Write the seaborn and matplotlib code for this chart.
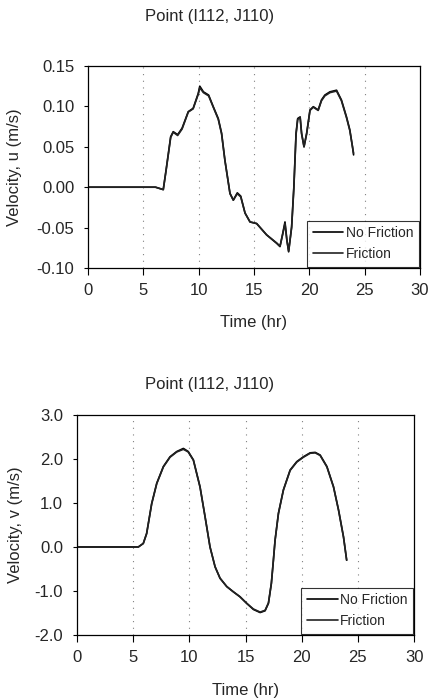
import numpy as np
import pandas as pd
import matplotlib
matplotlib.use("Agg")
import matplotlib.pyplot as plt
import seaborn as sns

# =========================
# DADOS
# =========================
titulo = "Point (I112, J110)"
legenda = ["No Friction", "Friction"]

# velocidade u
tempo_u = [0.0, 2.0, 4.0, 6.1, 6.8, 7.05, 7.47, 7.7, 8.1, 8.5, 9.06, 9.5, 9.96,
           10.1, 10.43, 10.9, 11.32, 11.77, 12.07, 12.37, 12.83, 13.13, 13.49,
           13.8, 14.19, 14.64, 15.24, 16.14, 17.05, 17.35, 17.6, 17.8, 17.97,
           18.13, 18.4, 18.6, 18.8, 18.95, 19.17, 19.3, 19.52, 19.76, 20.06,
           20.36, 20.8, 21.1, 21.4, 21.86, 22.46, 22.9, 23.36, 23.66, 23.9, 24.0]
u_sem_atrito = [0.0, 0.0, 0.0, 0.0, -0.003, 0.021, 0.0625, 0.0687, 0.065, 0.073,
                0.0935, 0.0976, 0.116, 0.125, 0.118, 0.114, 0.0996, 0.085, 0.067,
                0.0337, -0.0076, -0.016, -0.007, -0.011, -0.032, -0.043, -0.045,
                -0.059, -0.0695, -0.0735, -0.057, -0.043, -0.065, -0.08, -0.049,
                0.0, 0.067, 0.085, 0.087, 0.067, 0.050, 0.067, 0.0956, 0.0996,
                0.0956, 0.108, 0.114, 0.118, 0.120, 0.108, 0.087, 0.071, 0.050, 0.040]
u_com_atrito = [0.0, 0.0, 0.0, 0.0, -0.003, 0.020, 0.0615, 0.068, 0.064, 0.072,
                0.093, 0.097, 0.115, 0.123, 0.117, 0.113, 0.099, 0.084, 0.066,
                0.033, -0.008, -0.016, -0.008, -0.012, -0.032, -0.043, -0.045,
                -0.059, -0.069, -0.073, -0.058, -0.045, -0.066, -0.079, -0.050,
                -0.002, 0.065, 0.084, 0.086, 0.066, 0.050, 0.066, 0.095, 0.099,
                0.095, 0.107, 0.113, 0.117, 0.119, 0.107, 0.086, 0.070, 0.050, 0.042]

# velocidade v
tempo_v = [0.0, 0.02, 2.0, 4.0, 5.46, 5.9, 6.2, 6.65, 7.1, 7.69, 8.28, 8.88, 9.47,
           9.9, 10.36, 10.95, 11.4, 11.84, 12.29, 12.73, 13.33, 13.92, 14.5,
           15.1, 15.7, 16.3, 16.74, 17.04, 17.3, 17.48, 17.63, 17.93, 18.37,
           18.97, 19.56, 20.15, 20.75, 21.2, 21.64, 22.24, 22.83, 23.28, 23.72, 24.0]
v_sem_atrito = [2.6, 0.0, 0.0, 0.0, 0.0, 0.08, 0.31, 0.99, 1.45, 1.83, 2.05, 2.17,
                2.24, 2.17, 1.98, 1.37, 0.69, 0.0, -0.45, -0.71, -0.9, -1.02,
                -1.13, -1.28, -1.42, -1.49, -1.45, -1.28, -0.83, -0.30, 0.16, 0.77,
                1.30, 1.75, 1.94, 2.05, 2.14, 2.15, 2.09, 1.83, 1.37, 0.84, 0.23, -0.30]
v_com_atrito = [2.6, 0.0, 0.0, 0.0, 0.0, 0.08, 0.30, 0.98, 1.44, 1.82, 2.04, 2.16,
                2.22, 2.16, 1.97, 1.36, 0.68, 0.0, -0.45, -0.71, -0.9, -1.02,
                -1.13, -1.28, -1.41, -1.48, -1.44, -1.27, -0.82, -0.30, 0.15, 0.76,
                1.29, 1.74, 1.93, 2.04, 2.13, 2.14, 2.08, 1.82, 1.36, 0.83, 0.22, -0.30]

# =========================
# CONFIG
# =========================
sns.set_theme(style="ticks")
plt.rcParams["font.family"] = ["Liberation Sans", "DejaVu Sans"]

fig = plt.figure(figsize=(4.30, 6.99), dpi=100)
ax_u = fig.add_axes([0.2047, 0.6166, 0.772, 0.289])
ax_v = fig.add_axes([0.179, 0.0916, 0.784, 0.3147])


def desenha(ax, tempo, serie_a, serie_b, ylabel, ylim, yticks, yfmt,
            ylab_x, xlab_y):
    df = pd.DataFrame({
        "tempo": list(tempo) * 2,
        "vel": list(serie_a) + list(serie_b),
        "caso": [legenda[0]] * len(tempo) + [legenda[1]] * len(tempo),
    })
    sns.lineplot(data=df, x="tempo", y="vel", hue="caso", style="caso",
                 palette=["black", "#222222"], dashes=False, sort=False,
                 linewidth=1.2, ax=ax)
    for xv in [5, 10, 15, 20, 25]:
        ax.axvline(xv, color="0.5", linestyle=(0, (1, 5)), linewidth=0.8, zorder=0)
    ax.set_xlim(0, 30)
    ax.set_ylim(*ylim)
    ax.set_xticks([0, 5, 10, 15, 20, 25, 30])
    ax.set_yticks(yticks)
    ax.set_yticklabels([yfmt.format(t) for t in yticks])
    ax.tick_params(axis="x", labelsize=12, length=5, width=0.8, color="black", pad=6)
    ax.tick_params(axis="y", labelsize=12, length=3, width=0.8, color="black", pad=7)
    for sp in ax.spines.values():
        sp.set_color("black")
        sp.set_linewidth(0.9)
    ax.set_xlabel("Time (hr)", fontsize=12)
    ax.set_ylabel(ylabel, fontsize=12)
    ax.yaxis.set_label_coords(ylab_x, 0.5)
    ax.xaxis.set_label_coords(0.5, xlab_y)
    leg = ax.legend(loc="lower right", fontsize=10, frameon=True, fancybox=False,
                    edgecolor="black", borderaxespad=0.1, handlelength=2.2,
                    handletextpad=0.15, borderpad=0.4, labelspacing=0.5)
    leg.get_frame().set_linewidth(0.8)


desenha(ax_u, tempo_u, u_sem_atrito, u_com_atrito, "Velocity, u (m/s)",
        (-0.10, 0.15), [-0.10, -0.05, 0.00, 0.05, 0.10, 0.15], "{:.2f}",
        -0.199, -0.233)
desenha(ax_v, tempo_v, v_sem_atrito, v_com_atrito, "Velocity, v (m/s)",
        (-2.0, 3.0), [-2.0, -1.0, 0.0, 1.0, 2.0, 3.0], "{:.1f}",
        -0.160, -0.218)

fig.text(210 / 430, 1 - 17 / 699, titulo, ha="center", va="center", fontsize=12)
fig.text(210 / 430, 1 - 384 / 699, titulo, ha="center", va="center", fontsize=12)

plt.savefig("out.png", dpi=100)
